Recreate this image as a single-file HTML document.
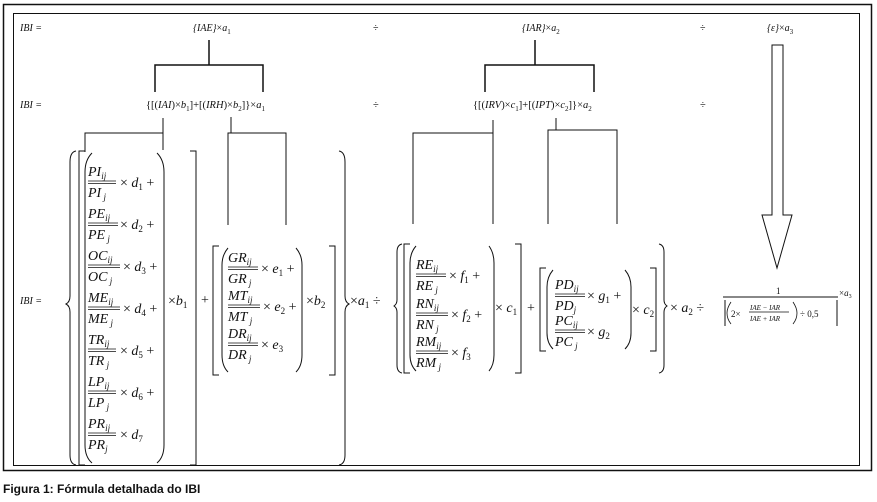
<!DOCTYPE html>
<html><head><meta charset="utf-8"><style>
html,body{margin:0;padding:0;background:#fff;}
svg{display:block;}
text{font-family:"Liberation Serif",serif;fill:#111;}
.i{font-style:italic;}
.s{font-size:10px;}
.s2{font-size:10.5px;}
.m{font-size:14px;}
.cap{font-family:"Liberation Sans",sans-serif;font-weight:bold;font-size:12px;}
line,path,rect,polygon{stroke:#111;fill:none;}
g.m line{stroke-width:0.8;}
</style></head><body>
<svg width="877" height="502" viewBox="0 0 877 502">
<rect x="3.5" y="4.5" width="868" height="466" stroke-width="1.5"/>
<rect x="13.5" y="13.5" width="846" height="452" stroke-width="1"/>

<g class="s">
<text x="20" y="31" class="i">IBI =</text>
<text x="193" y="31"><tspan class="i">{IAE}</tspan>×<tspan class="i">a</tspan><tspan font-size="7" dy="3">1</tspan></text>
<text x="373" y="31">÷</text>
<text x="522" y="31"><tspan class="i">{IAR}</tspan>×<tspan class="i">a</tspan><tspan font-size="7" dy="3">2</tspan></text>
<text x="700" y="31">÷</text>
<text x="767" y="31"><tspan class="i">{ε}</tspan>×<tspan class="i">a</tspan><tspan font-size="7" dy="3">3</tspan></text>
</g>
<path d="M209,40 V65 M155,92 V65 H263 V92" stroke-width="1.5"/>
<path d="M535,40 V65 M485,92 V65 H594 V92" stroke-width="1.5"/>
<g class="s2">
<text x="20" y="108" class="i s">IBI =</text>
<text x="146" y="108">{[(<tspan class="i">IAI</tspan>)×<tspan class="i">b</tspan><tspan font-size="7" dy="3">1</tspan><tspan dy="-3">]+[(</tspan><tspan class="i">IRH</tspan>)×<tspan class="i">b</tspan><tspan font-size="7" dy="3">2</tspan><tspan dy="-3">]}×</tspan><tspan class="i">a</tspan><tspan font-size="7" dy="3">1</tspan></text>
<text x="373" y="108">÷</text>
<text x="473" y="108">{[(<tspan class="i">IRV</tspan>)×<tspan class="i">c</tspan><tspan font-size="7" dy="3">1</tspan><tspan dy="-3">]+[(</tspan><tspan class="i">IPT</tspan>)×<tspan class="i">c</tspan><tspan font-size="7" dy="3">2</tspan><tspan dy="-3">]}×</tspan><tspan class="i">a</tspan><tspan font-size="7" dy="3">2</tspan></text>
<text x="700" y="108">÷</text>
</g>
<path d="M163,118 V133 H85 V152 M163,133 V150" stroke-width="1"/>
<path d="M231,117 V133 M228,225 V133 H286 V225" stroke-width="1"/>
<path d="M493,120 V133 H413 V224 M493,133 V224" stroke-width="1"/>
<path d="M556,118 V130 M548,224 V130 H617 V224" stroke-width="1"/>
<polygon points="772,45 783,45 783,215 792,215 777,268 762,215 772,215" stroke-width="1"/>

<text x="20" y="304" class="i s">IBI =</text>
<path d="M76,151 Q70,152 70,162 V296 Q70,302 66,304 Q70,306 70,312 V455 Q70,464 76,465" stroke-width="1"/>
<path d="M85,151 H79 V465 H85" stroke-width="1"/>
<path d="M92,153 Q85,160 85,172 V445 Q85,457 92,463" stroke-width="1"/>
<path d="M157,153 Q164,160 164,172 V445 Q164,457 157,463" stroke-width="1"/>
<text x="168" y="305" class="m">×<tspan class="i">b</tspan><tspan font-size="9" dy="3">1</tspan></text>
<path d="M190,151 H196 V465 H190" stroke-width="1"/>
<text x="201" y="304" class="m">+</text>

<g class="m">
<g transform="translate(88,176)"><text class="i">PI<tspan font-size="9" dy="3">ij</tspan></text><line x1="0" y1="5" x2="28" y2="5"/><line x1="0" y1="7.5" x2="28" y2="7.5"/><text y="21" class="i">PI<tspan font-size="9" dy="3"> j</tspan></text><text x="32" y="11">× <tspan class="i">d</tspan><tspan font-size="9" dy="3">1</tspan><tspan dy="-3"> +</tspan></text></g>
<g transform="translate(88,218)"><text class="i">PE<tspan font-size="9" dy="3">ij</tspan></text><line x1="0" y1="5" x2="30" y2="5"/><line x1="0" y1="7.5" x2="30" y2="7.5"/><text y="21" class="i">PE<tspan font-size="9" dy="3"> j</tspan></text><text x="32" y="11">× <tspan class="i">d</tspan><tspan font-size="9" dy="3">2</tspan><tspan dy="-3"> +</tspan></text></g>
<g transform="translate(88,260)"><text class="i">OC<tspan font-size="9" dy="3">ij</tspan></text><line x1="0" y1="5" x2="32" y2="5"/><line x1="0" y1="7.5" x2="32" y2="7.5"/><text y="21" class="i">OC<tspan font-size="9" dy="3"> j</tspan></text><text x="35" y="11">× <tspan class="i">d</tspan><tspan font-size="9" dy="3">3</tspan><tspan dy="-3"> +</tspan></text></g>
<g transform="translate(88,302)"><text class="i">ME<tspan font-size="9" dy="3">ij</tspan></text><line x1="0" y1="5" x2="32" y2="5"/><line x1="0" y1="7.5" x2="32" y2="7.5"/><text y="21" class="i">ME<tspan font-size="9" dy="3"> j</tspan></text><text x="35" y="11">× <tspan class="i">d</tspan><tspan font-size="9" dy="3">4</tspan><tspan dy="-3"> +</tspan></text></g>
<g transform="translate(88,344)"><text class="i">TR<tspan font-size="9" dy="3">ij</tspan></text><line x1="0" y1="5" x2="28" y2="5"/><line x1="0" y1="7.5" x2="28" y2="7.5"/><text y="21" class="i">TR<tspan font-size="9" dy="3"> j</tspan></text><text x="32" y="11">× <tspan class="i">d</tspan><tspan font-size="9" dy="3">5</tspan><tspan dy="-3"> +</tspan></text></g>
<g transform="translate(88,386)"><text class="i">LP<tspan font-size="9" dy="3">ij</tspan></text><line x1="0" y1="5" x2="28" y2="5"/><line x1="0" y1="7.5" x2="28" y2="7.5"/><text y="21" class="i">LP<tspan font-size="9" dy="3"> j</tspan></text><text x="32" y="11">× <tspan class="i">d</tspan><tspan font-size="9" dy="3">6</tspan><tspan dy="-3"> +</tspan></text></g>
<g transform="translate(88,428)"><text class="i">PR<tspan font-size="9" dy="3">ij</tspan></text><line x1="0" y1="5" x2="28" y2="5"/><line x1="0" y1="7.5" x2="28" y2="7.5"/><text y="21" class="i">PR<tspan font-size="9" dy="3">j</tspan></text><text x="32" y="11">× <tspan class="i">d</tspan><tspan font-size="9" dy="3">7</tspan></text></g>

<g transform="translate(228,262)"><text class="i">GR<tspan font-size="9" dy="3">ij</tspan></text><line x1="0" y1="5" x2="30" y2="5"/><line x1="0" y1="7.5" x2="30" y2="7.5"/><text y="21" class="i">GR<tspan font-size="9" dy="3"> j</tspan></text><text x="33" y="11">× <tspan class="i">e</tspan><tspan font-size="9" dy="3">1</tspan><tspan dy="-3"> +</tspan></text></g>
<g transform="translate(228,300)"><text class="i">MT<tspan font-size="9" dy="3">ij</tspan></text><line x1="0" y1="5" x2="32" y2="5"/><line x1="0" y1="7.5" x2="32" y2="7.5"/><text y="21" class="i">MT<tspan font-size="9" dy="3"> j</tspan></text><text x="35" y="11">× <tspan class="i">e</tspan><tspan font-size="9" dy="3">2</tspan><tspan dy="-3"> +</tspan></text></g>
<g transform="translate(228,338)"><text class="i">DR<tspan font-size="9" dy="3">ij</tspan></text><line x1="0" y1="5" x2="30" y2="5"/><line x1="0" y1="7.5" x2="30" y2="7.5"/><text y="21" class="i">DR<tspan font-size="9" dy="3"> j</tspan></text><text x="33" y="11">× <tspan class="i">e</tspan><tspan font-size="9" dy="3">3</tspan></text></g>
</g>
<path d="M219,246 H213 V375 H219" stroke-width="1"/>
<path d="M228,248 Q222,255 222,265 V355 Q222,366 228,372" stroke-width="1"/>
<path d="M296,248 Q302,255 302,265 V355 Q302,366 296,372" stroke-width="1"/>
<text x="306" y="305" class="m">×<tspan class="i">b</tspan><tspan font-size="9" dy="3">2</tspan></text>
<path d="M329,246 H335 V375 H329" stroke-width="1"/>
<path d="M339,151 Q345,152 345,162 V296 Q345,302 349,304 Q345,306 345,312 V455 Q345,464 339,465" stroke-width="1"/>
<text x="350" y="305" class="m">×<tspan class="i">a</tspan><tspan font-size="9" dy="3">1</tspan><tspan dy="-3"> ÷</tspan></text>

<path d="M402,244 Q397,245 397,252 V300 Q397,304 394,306 Q397,308 397,312 V365 Q397,372 402,373" stroke-width="1"/>
<path d="M410,244 H404 V373 H410" stroke-width="1"/>
<path d="M416,246 Q410,253 410,263 V355 Q410,365 416,371" stroke-width="1"/>
<path d="M489,246 Q494,253 494,263 V355 Q494,365 489,371" stroke-width="1"/>
<text x="495" y="312" class="m">×<tspan class="i"> c</tspan><tspan font-size="9" dy="3">1</tspan></text>
<path d="M515,244 H521 V373 H515" stroke-width="1"/>
<text x="527" y="312" class="m">+</text>
<path d="M546,268 H540 V351 H546" stroke-width="1"/>
<path d="M553,270 Q547,277 547,287 V333 Q547,343 553,349" stroke-width="1"/>
<path d="M625,270 Q631,277 631,287 V333 Q631,343 625,349" stroke-width="1"/>
<text x="632" y="314" class="m">×<tspan class="i"> c</tspan><tspan font-size="9" dy="3">2</tspan></text>
<path d="M650,268 H656 V351 H650" stroke-width="1"/>
<path d="M659,244 Q664,245 664,252 V300 Q664,304 667,306 Q664,308 664,312 V365 Q664,372 659,373" stroke-width="1"/>
<text x="670" y="312" class="m">×<tspan class="i"> a</tspan><tspan font-size="9" dy="3">2</tspan><tspan dy="-3"> ÷</tspan></text>

<g class="m">
<g transform="translate(416,269)"><text class="i">RE<tspan font-size="9" dy="3">ij</tspan></text><line x1="0" y1="5" x2="30" y2="5"/><line x1="0" y1="7.5" x2="30" y2="7.5"/><text y="21" class="i">RE<tspan font-size="9" dy="3"> j</tspan></text><text x="33" y="11">× <tspan class="i">f</tspan><tspan font-size="9" dy="3">1</tspan><tspan dy="-3"> +</tspan></text></g>
<g transform="translate(416,308)"><text class="i">RN<tspan font-size="9" dy="3">ij</tspan></text><line x1="0" y1="5" x2="32" y2="5"/><line x1="0" y1="7.5" x2="32" y2="7.5"/><text y="21" class="i">RN<tspan font-size="9" dy="3"> j</tspan></text><text x="35" y="11">× <tspan class="i">f</tspan><tspan font-size="9" dy="3">2</tspan><tspan dy="-3"> +</tspan></text></g>
<g transform="translate(416,346)"><text class="i">RM<tspan font-size="9" dy="3">ij</tspan></text><line x1="0" y1="5" x2="32" y2="5"/><line x1="0" y1="7.5" x2="32" y2="7.5"/><text y="21" class="i">RM<tspan font-size="9" dy="3"> j</tspan></text><text x="35" y="11">× <tspan class="i">f</tspan><tspan font-size="9" dy="3">3</tspan></text></g>
<g transform="translate(555,289)"><text class="i">PD<tspan font-size="9" dy="3">ij</tspan></text><line x1="0" y1="5" x2="30" y2="5"/><line x1="0" y1="7.5" x2="30" y2="7.5"/><text y="21" class="i">PD<tspan font-size="9" dy="3">j</tspan></text><text x="32" y="11">× <tspan class="i">g</tspan><tspan font-size="9" dy="3">1</tspan><tspan dy="-3"> +</tspan></text></g>
<g transform="translate(555,325)"><text class="i">PC<tspan font-size="9" dy="3">ij</tspan></text><line x1="0" y1="5" x2="30" y2="5"/><line x1="0" y1="7.5" x2="30" y2="7.5"/><text y="21" class="i">PC<tspan font-size="9" dy="3"> j</tspan></text><text x="32" y="11">× <tspan class="i">g</tspan><tspan font-size="9" dy="3">2</tspan></text></g>
</g>

<text x="776" y="294" font-size="9">1</text>
<line x1="723" y1="297" x2="838" y2="297" stroke-width="1"/>
<path d="M725,300 V326 M837,300 V326" stroke-width="1"/>
<path d="M731,302 Q727,308 727,313 Q727,319 731,324 M793,302 Q797,308 797,313 Q797,319 793,324" stroke-width="0.8"/>
<text x="731" y="317" font-size="9">2×</text>
<text x="750" y="310" font-size="7" class="i">IAE − IAR</text>
<line x1="749" y1="312" x2="789" y2="312" stroke-width="0.7"/>
<text x="750" y="321" font-size="7" class="i">IAE + IAR</text>
<text x="800" y="317" font-size="9">÷ 0,5</text>
<text x="839" y="296" font-size="9">×<tspan class="i">a</tspan><tspan font-size="6" dy="2">3</tspan></text>

<text x="3" y="493" class="cap">Figura 1: Fórmula detalhada do IBI</text>
</svg>
</body></html>
